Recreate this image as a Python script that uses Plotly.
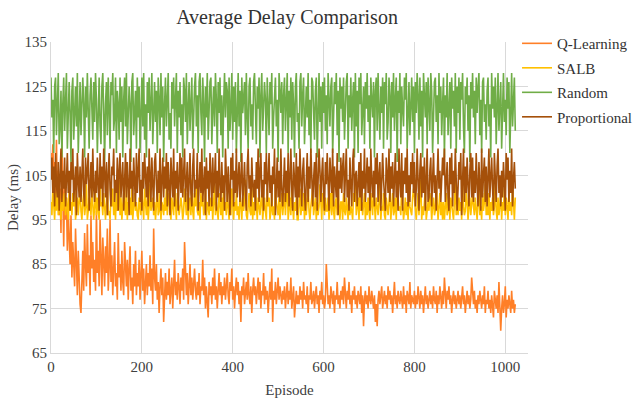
import plotly.graph_objects as go

episodes = list(range(0, 1024, 2))

q_learning = [
    110,106,112,104,108,101,113,99,106,96,102,92,114,97,89,104,
    95,100,88,97,92,85,96,82,90,86,80,93,84,78,88,81,
    76,74,83,88,79,92,85,80,94,83,87,78,96,84,90,81,
    86,79,97,83,88,80,95,82,78,91,85,80,89,83,93,79,
    84,95,81,87,78,86,90,80,83,77,92,82,85,79,88,81,
    78,90,83,80,86,77,84,89,79,82,76,85,80,88,78,83,
    80,86,77,82,88,79,84,76,81,85,78,83,80,87,79,84,
    76,93,82,79,85,77,81,74,80,84,78,82,72,79,83,77,
    81,78,84,76,80,82,75,79,86,78,81,77,83,80,76,82,
    79,84,77,90,81,78,83,76,80,85,78,82,77,80,84,79,
    77,81,78,83,76,80,79,86,78,82,75,80,77,73,81,78,
    80,76,82,78,84,77,80,75,79,83,78,81,76,80,78,82,
    77,80,83,78,76,81,79,84,77,80,75,79,82,78,81,76,
    79,72,80,78,82,76,79,81,77,83,78,76,80,74,79,82,
    78,80,76,79,82,77,81,75,79,78,83,76,80,77,79,74,
    78,81,77,84,72,79,77,81,76,79,82,77,80,78,76,79,
    77,80,75,78,81,76,79,77,82,75,78,80,73,77,79,76,
    78,76,80,77,79,75,81,77,78,76,80,74,78,77,81,76,
    77,79,75,78,80,76,78,74,79,77,81,76,78,75,77,85,
    79,76,78,75,80,77,76,79,74,78,77,81,76,78,75,79,
    77,80,76,82,78,75,79,77,81,76,78,74,79,77,80,76,
    78,75,79,77,76,80,74,78,71,77,79,76,78,75,80,77,
    76,79,77,75,78,72,76,71,77,79,76,78,80,75,77,79,
    76,78,75,80,77,79,76,78,74,77,81,76,78,75,79,77,
    76,79,77,75,80,76,78,74,79,77,76,81,75,78,77,76,
    79,75,78,76,80,77,75,79,76,78,74,77,80,76,78,75,
    77,79,76,78,75,80,77,76,79,74,78,76,80,77,75,79,
    76,82,78,75,79,77,80,76,78,74,77,79,76,78,75,77,
    79,76,78,75,77,80,76,78,74,77,79,76,78,75,77,82,
    78,76,79,75,77,74,78,76,79,77,75,78,76,80,74,77,
    76,79,75,77,74,78,76,73,79,77,75,78,74,81,76,70,
    75,78,74,76,80,73,77,75,78,76,74,79,75,77,74,76,
]

salb = [
    99,96,102,98,95,101,97,104,96,100,98,95,103,97,99,101,
    96,100,98,95,102,97,99,96,101,98,104,95,97,100,96,99,
    102,97,95,99,101,96,98,103,95,97,100,98,96,102,99,95,
    98,101,96,100,97,95,104,98,99,96,101,97,95,99,103,96,
    97,95,100,98,102,96,99,95,101,97,98,104,96,100,95,98,
    101,98,96,103,95,99,97,100,96,102,95,98,101,97,99,96,
    95,100,98,96,101,97,95,102,99,96,100,95,98,103,97,99,
    100,96,99,95,98,104,96,97,101,95,99,98,96,100,97,102,
    96,99,101,97,95,100,98,96,103,97,95,101,99,96,98,100,
    98,95,97,102,99,96,101,95,98,100,96,104,97,95,101,98,
    103,97,96,99,95,101,98,100,96,97,102,95,99,98,96,100,
    97,100,95,98,103,96,99,97,95,101,98,96,100,95,104,97,
    99,96,101,97,95,100,96,102,98,95,99,97,101,96,98,95,
    101,98,95,100,97,99,104,96,95,98,101,97,96,103,95,99,
    96,102,98,95,100,97,96,99,101,95,98,100,97,95,102,98,
    100,95,97,101,96,98,95,103,99,97,96,100,95,98,101,96,
    98,101,96,99,104,95,97,100,96,102,98,95,99,97,100,95,
    95,99,102,96,98,97,101,95,100,96,99,103,97,95,98,101,
    102,96,98,100,95,99,96,98,103,97,95,101,98,96,100,97,
    97,100,95,98,101,96,104,97,95,99,100,96,102,98,95,99,
    99,95,101,97,96,100,98,95,102,96,98,97,95,101,99,104,
    96,98,100,95,103,97,99,96,98,101,95,99,96,100,97,95,
    101,97,96,102,98,95,100,97,96,99,104,95,98,97,101,96,
    95,100,98,96,99,102,95,98,101,96,97,100,95,103,98,97,
    98,96,103,99,95,97,100,96,99,95,101,98,97,96,100,102,
    100,97,95,98,101,96,99,104,95,98,96,100,102,95,97,99,
    97,101,99,95,98,100,96,97,103,99,95,98,101,96,99,95,
    99,95,98,101,96,97,102,95,100,98,97,95,99,104,96,100,
    96,100,97,99,95,103,98,96,97,101,99,95,98,100,96,98,
    101,98,96,100,97,95,99,102,96,98,95,101,97,99,103,96,
    98,96,101,95,99,97,100,96,98,104,97,95,100,96,98,101,
    95,99,97,102,96,100,98,95,101,97,99,96,103,98,95,100,
]

random_lb = [
    127,118,122,110,125,127,114,120,128,112,116,124,109,121,127,115,
    123,128,111,117,126,119,108,124,127,113,120,125,116,128,110,122,
    126,114,119,127,121,109,125,118,128,115,111,123,127,120,113,126,
    117,128,122,110,124,127,116,112,125,128,119,108,121,126,114,127,
    120,111,126,123,128,115,118,127,110,124,121,113,127,117,125,109,
    122,127,116,128,112,119,125,121,108,126,128,114,120,124,111,127,
    118,125,110,123,127,116,128,113,121,109,126,119,127,115,122,128,
    112,120,126,117,124,110,127,122,114,128,118,125,108,121,127,116,
    125,128,113,119,111,126,120,127,116,123,128,110,124,118,126,114,
    121,109,127,124,117,128,112,120,126,115,122,127,111,119,125,128,
    116,123,110,126,128,119,114,127,121,108,125,118,128,113,122,126,
    127,112,120,125,116,128,122,110,126,119,127,114,123,109,121,128,
    118,126,124,111,127,115,120,128,113,125,117,126,110,122,128,116,
    124,108,127,119,122,126,114,128,118,111,125,127,116,121,113,126,
    128,117,112,125,120,127,109,123,128,115,119,126,122,110,127,118,
    114,126,121,128,111,118,125,127,116,122,108,128,124,119,126,112,
    123,127,115,120,128,110,124,118,127,113,126,121,109,125,128,117,
    119,111,126,128,116,123,127,112,120,125,118,128,114,122,110,127,
    126,120,113,124,127,109,121,128,117,125,111,126,119,127,115,123,
    112,128,122,116,125,127,110,119,126,121,128,114,124,108,127,120,
    125,117,127,113,120,126,128,111,123,118,127,115,122,126,109,128,
    116,124,110,127,121,128,114,119,125,112,126,120,128,117,123,111,
    127,122,118,126,109,124,127,115,128,120,113,125,119,127,111,126,
    121,128,113,117,127,123,110,126,118,128,115,122,127,108,124,119,
    128,112,125,120,116,127,122,128,111,119,126,114,121,127,117,125,
    110,126,119,128,123,113,127,116,124,109,128,121,118,126,112,127,
    122,115,128,124,110,120,126,127,117,123,112,128,119,125,114,121,
    127,109,123,118,128,114,121,126,111,127,120,124,116,128,110,125,
    119,127,113,126,122,128,116,110,125,121,127,115,123,108,126,120,
    128,118,124,112,127,119,125,128,114,122,110,126,127,117,121,113,
    124,127,116,121,109,128,120,125,118,127,112,123,128,115,119,126,
    111,125,128,117,122,114,127,120,126,110,124,128,116,121,127,115,
]

proportional = [
    104,109,101,107,98,110,103,100,108,97,105,111,99,106,102,109,
    98,103,110,101,106,97,108,104,111,99,102,107,96,110,104,100,
    107,99,105,111,101,98,109,103,106,110,97,104,108,100,111,102,
    99,106,101,109,104,97,110,102,107,98,111,103,100,108,96,105,
    110,102,98,107,105,111,99,104,101,109,97,106,110,100,103,108,
    97,105,110,100,108,103,96,111,102,106,99,109,104,98,110,101,
    106,111,99,104,97,108,102,110,105,100,107,98,111,103,99,109,
    101,97,108,110,103,99,106,101,111,97,104,109,100,107,102,110,
    98,108,103,96,109,105,100,111,98,106,102,108,97,104,110,101,
    109,100,106,111,99,103,108,97,105,110,101,98,107,111,100,104,
    102,110,97,105,108,101,111,99,103,107,96,109,102,106,98,110,
    105,98,109,101,104,110,97,106,100,111,103,99,108,101,105,97,
    111,103,99,107,102,96,109,104,110,98,106,101,111,100,104,108,
    99,106,110,98,105,108,101,97,107,111,102,105,98,109,103,100,
    104,97,108,102,111,99,106,110,100,104,97,108,103,110,99,106,
    110,101,105,98,107,103,111,96,104,109,100,106,99,111,102,98,
    103,109,99,106,101,110,98,105,111,102,97,108,104,100,110,96,
    107,100,111,103,98,106,109,101,97,104,110,99,107,102,111,105,
    98,104,108,100,110,97,103,111,106,99,105,109,101,97,108,103,
    110,102,97,109,104,101,111,98,107,103,100,110,96,106,102,109,
    101,107,110,99,105,111,100,104,97,109,103,98,108,111,99,105,
    106,98,103,108,100,110,97,106,102,111,99,104,109,101,107,97,
    111,104,100,106,98,109,103,110,99,105,108,97,102,110,104,100,
    97,109,105,101,111,99,107,102,108,98,104,110,100,106,97,111,
    104,100,110,97,106,103,109,101,111,98,105,99,108,103,110,101,
    108,98,102,111,104,97,106,110,100,107,101,109,97,104,111,99,
    100,106,109,98,103,110,101,105,97,108,111,102,106,99,103,109,
    105,111,99,104,108,100,97,109,103,110,98,106,101,111,104,97,
    102,108,104,110,96,105,111,99,107,101,109,103,98,106,110,100,
    109,99,106,101,110,103,98,108,104,97,111,100,105,109,99,107,
    98,105,111,100,106,109,102,97,110,104,99,107,111,101,105,98,
    106,100,108,103,97,110,104,109,99,106,101,111,98,104,108,102,
]

series = [
    ("Q-Learning", q_learning, "#FF7F27"),
    ("SALB", salb, "#FFC000"),
    ("Random", random_lb, "#70AD47"),
    ("Proportional", proportional, "#A5500A"),
]

FONT = "Liberation Serif, Times New Roman, DejaVu Serif, serif"

fig = go.Figure()
for name, vals, color in series:
    fig.add_trace(go.Scatter(
        x=episodes, y=vals, mode="lines", name=name,
        legendgroup=name,
        line=dict(color=color, width=1.6),
    ))

fig.update_layout(
    width=635, height=403,
    margin=dict(l=51, r=107, t=42, b=50, autoexpand=False),
    paper_bgcolor="white", plot_bgcolor="white",
    font=dict(family=FONT, size=15, color="#404040"),
    title=dict(text="Average Delay Comparison", x=0.452, xanchor="center",
               y=0.958, yanchor="middle",
               font=dict(family=FONT, size=20, color="#333333")),
    showlegend=True,
    legend=dict(x=0.977, xanchor="left", y=1.048, yanchor="top",
                bgcolor="rgba(0,0,0,0)", tracegroupgap=2,
                font=dict(family=FONT, size=15, color="#333333")),
    xaxis=dict(range=[0, 1050], tickvals=[0, 200, 400, 600, 800, 1000],
               showgrid=True, gridcolor="#D9D9D9", gridwidth=1,
               showline=True, linecolor="#D9D9D9", zeroline=False,
               ticks="", automargin=False,
               tickfont=dict(family=FONT, size=15, color="#404040"),
               title=dict(text="Episode", standoff=10,
                          font=dict(family=FONT, size=15, color="#404040"))),
    yaxis=dict(range=[65, 135], dtick=10, tick0=65,
               showgrid=True, gridcolor="#D9D9D9", gridwidth=1,
               showline=True, linecolor="#D9D9D9", zeroline=False,
               ticks="", automargin=False,
               tickfont=dict(family=FONT, size=15, color="#404040"),
               title=dict(text="Delay (ms)", standoff=2,
                          font=dict(family=FONT, size=15, color="#404040"))),
)

# remove the default 8px page margin so the figure sits at the window origin
fig.write_html("out.html", config={"displayModeBar": False},
               post_script="document.body.style.margin='0px';")
